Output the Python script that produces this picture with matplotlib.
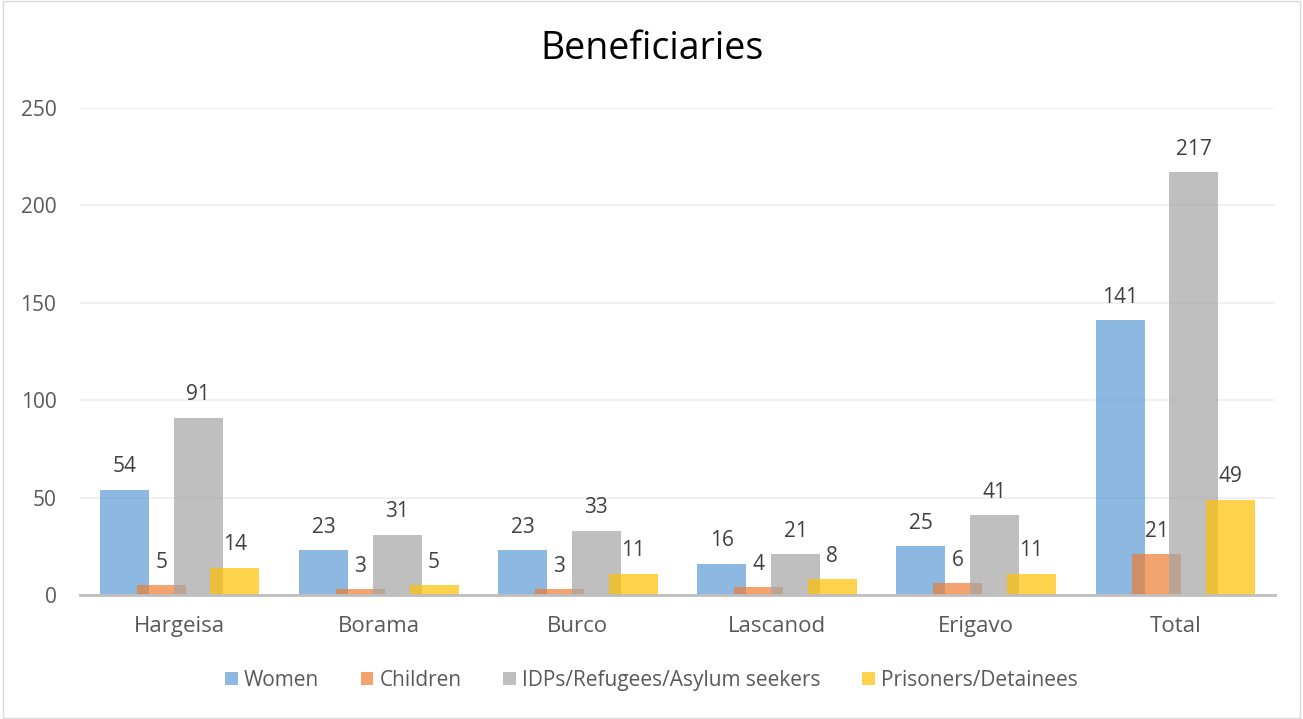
import matplotlib.pyplot as plt
import numpy as np
from matplotlib.patches import Rectangle

plt.rcParams['font.family'] = ['Open Sans', 'DejaVu Sans']

cities = ["Hargeisa", "Borama", "Burco", "Lascanod", "Erigavo", "Total"]
women = [54, 23, 23, 16, 25, 141]
children = [5, 3, 3, 4, 6, 21]
idps = [91, 31, 33, 21, 41, 217]
prisoners = [14, 5, 11, 8, 11, 49]

series = [("Women", women, "#5B9BD5"),
          ("Children", children, "#ED7D31"),
          ("IDPs/Refugees/Asylum seekers", idps, "#A5A5A5"),
          ("Prisoners/Detainees", prisoners, "#FFC000")]

fig = plt.figure(figsize=(13.03, 7.19), dpi=100)
ax = fig.add_axes([0.0614, 0.1725, 0.9171, 0.6773])

x = np.arange(len(cities))
w = 0.246
step = 0.185
for i, (name, vals, col) in enumerate(series):
    pos = x + (i - 1.5) * step
    ax.bar(pos, vals, width=w, color=col, alpha=0.7, label=name, zorder=2 + i)
    for p, v in zip(pos, vals):
        ax.annotate(str(v), (p, v), xytext=(0, 9), textcoords="offset points",
                    ha="center", va="bottom", fontsize=15, color="#404040")

ax.set_xlim(-0.5, len(cities) - 0.5)
ax.set_ylim(0, 250)
ax.set_yticks(range(0, 251, 50))
ax.set_xticks(x)
ax.set_xticklabels(cities)
ax.yaxis.grid(True, color="#EDEDED", linewidth=1.2, zorder=0)
ax.set_axisbelow(True)
for s in ["top", "right", "left"]:
    ax.spines[s].set_visible(False)
ax.spines["bottom"].set_color("#BFBFBF")
ax.spines["bottom"].set_linewidth(2)
ax.spines["bottom"].set_zorder(10)
ax.tick_params(axis="both", length=0, labelsize=15, colors="#595959")
ax.tick_params(axis="x", labelsize=16, pad=15)
ax.tick_params(axis="y", pad=17)

fig.text(0.5, 0.932, "Beneficiaries", ha="center", va="center", fontsize=27, color="black")

handles, labels = ax.get_legend_handles_labels()
fig.legend(handles, labels, loc="center", bbox_to_anchor=(0.50, 0.054), ncol=4,
           frameon=False, fontsize=15, labelcolor="#595959", handlelength=0.6,
           handleheight=0.6, handletextpad=0.3, columnspacing=2.0)

fig.patches.append(Rectangle((0.002, 0.002), 0.996, 0.996, transform=fig.transFigure,
                             fill=False, edgecolor="#D9D9D9", linewidth=1))

fig.savefig("out.png", dpi=100)
